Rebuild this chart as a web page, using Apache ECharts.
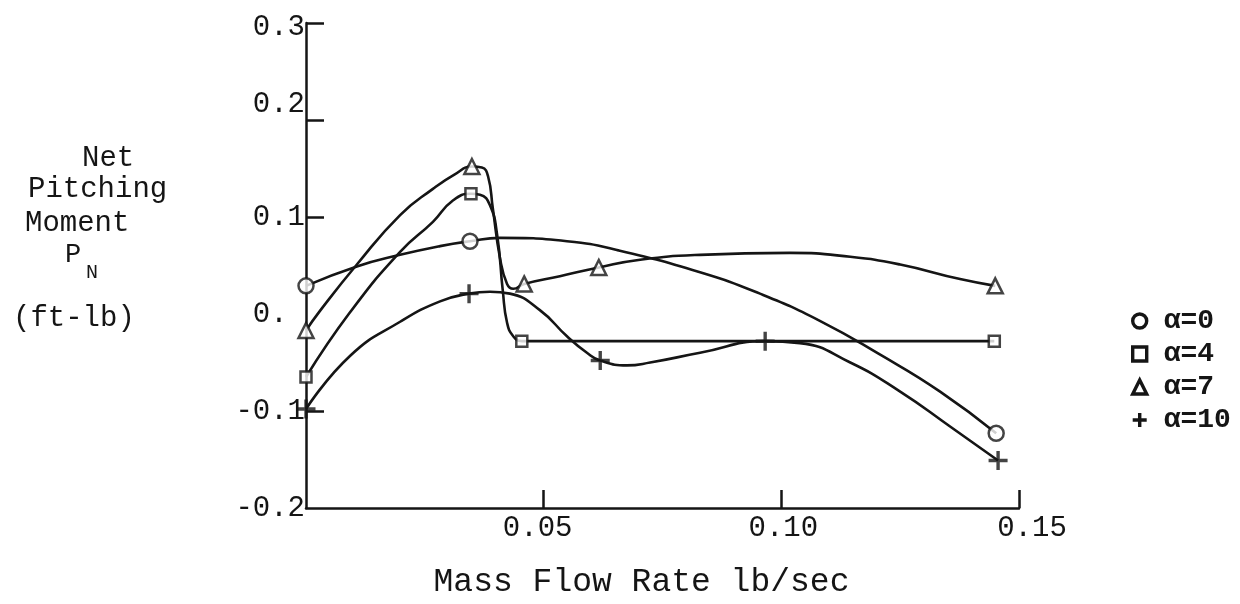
<!DOCTYPE html>
<html>
<head>
<meta charset="utf-8">
<script src="https://cdn.jsdelivr.net/npm/echarts@6/dist/echarts.min.js"></script>
<style>
  html, body { margin: 0; padding: 0; background: #ffffff; }
  #chart { width: 1240px; height: 604px; }
</style>
</head>
<body>
<div id="chart"></div>
<script>
// Axis ticks and labels
const xTickValues = [0.05, 0.10, 0.15];
const xTickLabels = ['0.05', '0.10', '0.15'];
const yLabelValues = [-0.2, -0.1, 0, 0.1, 0.2, 0.3];
const yLabelTexts = ['-0.2', '-0.1', '0. ', '0.1', '0.2', '0.3'];
const yTickValues = [-0.1, 0.1, 0.2, 0.3];

// Measured points [mass flow rate lb/sec, net pitching moment ft-lb]
const alpha0Points = [[0, 0.029], [0.0345, 0.075], [0.1452, -0.123]];
const alpha4Points = [[0, -0.065], [0.0347, 0.124], [0.0454, -0.028], [0.1448, -0.028]];
const alpha7Points = [[0, -0.017], [0.0349, 0.152], [0.0459, 0.031], [0.0616, 0.048], [0.1450, 0.029]];
const alpha10Points = [[0, -0.098], [0.0343, 0.021], [0.0619, -0.048], [0.0966, -0.028], [0.1456, -0.151]];

// Faired curves through each set of points
const alpha0Curve = [[0, 0.029], [0.0107, 0.049], [0.0198, 0.061], [0.0282, 0.070],
  [0.0345, 0.075], [0.0408, 0.0785], [0.0549, 0.075], [0.0654, 0.066],
  [0.0829, 0.043], [0.0955, 0.021], [0.1081, -0.007], [0.1208, -0.042], [0.1334, -0.080], [0.1452, -0.123]];
const alpha4Curve = [[0, -0.065], [0.0093, 0.002], [0.0198, 0.064], [0.0267, 0.095], [0.0309, 0.117],
  [0.0347, 0.124], [0.0366, 0.123], [0.0387, 0.112], [0.0402, 0.082], [0.0414, 0.024],
  [0.0423, -0.009], [0.0436, -0.023], [0.0454, -0.028], [0.1448, -0.028]];
const alpha7Curve = [[0, -0.017], [0.0029, 0.003], [0.0107, 0.051], [0.0198, 0.102], [0.0267, 0.129],
  [0.0313, 0.144], [0.0349, 0.152], [0.0370, 0.151], [0.0383, 0.142], [0.0393, 0.109],
  [0.0408, 0.058], [0.0423, 0.031], [0.0436, 0.026], [0.0459, 0.031], [0.0534, 0.039],
  [0.0616, 0.048], [0.0703, 0.056], [0.0829, 0.061], [0.1018, 0.063], [0.1145, 0.059],
  [0.1250, 0.051], [0.1376, 0.036], [0.1450, 0.029]];
const alpha10Curve = [[0, -0.098], [0.0093, -0.043], [0.0198, -0.008], [0.0282, 0.013], [0.0343, 0.021],
  [0.0387, 0.023], [0.0429, 0.021], [0.0492, 0.004], [0.0549, -0.023], [0.0591, -0.040],
  [0.0619, -0.048], [0.0675, -0.053], [0.0724, -0.050], [0.0829, -0.040], [0.0966, -0.028],
  [0.1039, -0.030], [0.1145, -0.050], [0.1250, -0.080], [0.1355, -0.116], [0.1456, -0.151]];

const seriesNames = ['α=0', 'α=4', 'α=7', 'α=10'];

const INK = '#151515';
const MONO = '"Liberation Mono", "DejaVu Sans Mono", monospace';
const PLUS = 'path://M7.4,0 H10.6 V7.4 H18 V10.6 H10.6 V18 H7.4 V10.6 H0 V7.4 H7.4 Z';
const PLUS_BOLD = 'path://M6.8,0 H11.2 V6.8 H18 V11.2 H11.2 V18 H6.8 V11.2 H0 V6.8 H6.8 Z';

const markerDefs = [
  { symbol: 'circle', size: 15, style: { color: '#fff', borderColor: INK, borderWidth: 2.5 } },
  { symbol: 'rect', size: 11, style: { color: '#fff', borderColor: INK, borderWidth: 2.5 } },
  { symbol: 'triangle', size: 15, style: { color: '#fff', borderColor: INK, borderWidth: 2.5 } },
  { symbol: PLUS, size: 19, style: { color: INK, borderWidth: 0 } }
];
const curves = [alpha0Curve, alpha4Curve, alpha7Curve, alpha10Curve];
const points = [alpha0Points, alpha4Points, alpha7Points, alpha10Points];

const series = [];
seriesNames.forEach((name, i) => {
  series.push({
    name, type: 'line', data: curves[i], showSymbol: false, symbol: 'none',
    smooth: 0.5, silent: true, z: 2,
    lineStyle: { color: INK, width: 2.6 }
  });
  series.push({
    name, type: 'scatter', data: points[i], symbol: markerDefs[i].symbol,
    symbolSize: markerDefs[i].size, itemStyle: markerDefs[i].style,
    clip: false, silent: true, z: 3
  });
});

// Legend icons echo the plotted markers, drawn heavier
const legendIcons = [
  { icon: 'circle', itemStyle: { color: '#fff', borderColor: INK, borderWidth: 3.4 } },
  { icon: 'rect', itemStyle: { color: '#fff', borderColor: INK, borderWidth: 3.4 } },
  { icon: 'triangle', itemStyle: { color: '#fff', borderColor: INK, borderWidth: 3.4 } },
  { icon: PLUS_BOLD, itemStyle: { color: INK, borderWidth: 0 } }
];

const xLabelRich = {
  a: { fontFamily: MONO, fontSize: 29, color: INK, padding: [0, 12, 0, 0] },
  b: { fontFamily: MONO, fontSize: 29, color: INK, padding: [0, 0, 0, 4] },
  c: { fontFamily: MONO, fontSize: 29, color: INK, padding: [0, 0, 0, 26] }
};
const yLabelRich = {
  n: { fontFamily: MONO, fontSize: 29, color: INK },
  up: { fontFamily: MONO, fontSize: 29, color: INK, padding: [0, 0, 32, 0] },
  dn: { fontFamily: MONO, fontSize: 29, color: INK, padding: [8, 0, 0, 0] }
};

const chart = echarts.init(document.getElementById('chart'), null, { renderer: 'canvas' });
chart.setOption({
  backgroundColor: '#ffffff',
  animation: false,
  grid: { left: 306, top: 23, width: 713, height: 494, containLabel: false },
  xAxis: {
    type: 'value', min: 0, max: 0.15, interval: 0.05,
    name: 'Mass Flow Rate lb/sec', nameLocation: 'middle', nameGap: 58,
    nameTextStyle: { fontFamily: MONO, fontSize: 33, color: INK, padding: [0, 42, 0, 0] },
    axisLine: { show: true, onZero: false, lineStyle: { color: INK, width: 2.5 } },
    axisTick: { show: true, inside: true, length: 18, customValues: xTickValues,
      lineStyle: { color: INK, width: 2.5 } },
    axisLabel: {
      customValues: xTickValues, margin: 6,
      formatter: v => {
        const i = xTickValues.findIndex(t => Math.abs(t - v) < 1e-9);
        return '{' + ['a', 'b', 'c'][i] + '|' + xTickLabels[i] + '}';
      },
      rich: xLabelRich
    },
    splitLine: { show: false }
  },
  yAxis: {
    type: 'value', min: -0.2, max: 0.3, interval: 0.1,
    axisLine: { show: true, onZero: false, lineStyle: { color: INK, width: 2.5 } },
    axisTick: { show: true, inside: true, length: 18, customValues: yTickValues,
      lineStyle: { color: INK, width: 2.5 } },
    axisLabel: {
      customValues: yLabelValues, margin: 1,
      formatter: v => {
        const i = yLabelValues.findIndex(t => Math.abs(t - v) < 1e-9);
        const key = yLabelTexts[i] === '0.2' ? 'up' : (yLabelTexts[i] === '0.3' ? 'dn' : 'n');
        return '{' + key + '|' + yLabelTexts[i] + '}';
      },
      rich: yLabelRich
    },
    splitLine: { show: false }
  },
  legend: {
    orient: 'vertical', left: 1126, top: 301, itemGap: 3,
    itemWidth: 14, itemHeight: 14, selectedMode: false,
    data: seriesNames.map((n, i) => Object.assign({ name: n }, legendIcons[i])),
    textStyle: { fontFamily: MONO, fontSize: 28, fontWeight: 'bold', color: INK,
      lineHeight: 30, padding: [0, 0, 0, 12] }
  },
  graphic: [
    { type: 'text', x: 82, y: 158, style: { text: 'Net', fontFamily: MONO, fontSize: 29, fill: INK, verticalAlign: 'middle' } },
    { type: 'text', x: 28, y: 189, style: { text: 'Pitching', fontFamily: MONO, fontSize: 29, fill: INK, verticalAlign: 'middle' } },
    { type: 'text', x: 25, y: 223, style: { text: 'Moment', fontFamily: MONO, fontSize: 29, fill: INK, verticalAlign: 'middle' } },
    { type: 'text', x: 65, y: 255, style: { text: 'P', fontFamily: MONO, fontSize: 27, fill: INK, verticalAlign: 'middle' } },
    { type: 'text', x: 86, y: 273, style: { text: 'N', fontFamily: MONO, fontSize: 20, fill: INK, verticalAlign: 'middle' } },
    { type: 'text', x: 13, y: 318, style: { text: '(ft-lb)', fontFamily: MONO, fontSize: 29, fill: INK, verticalAlign: 'middle' } }
  ],
  series
});
</script>
</body>
</html>
